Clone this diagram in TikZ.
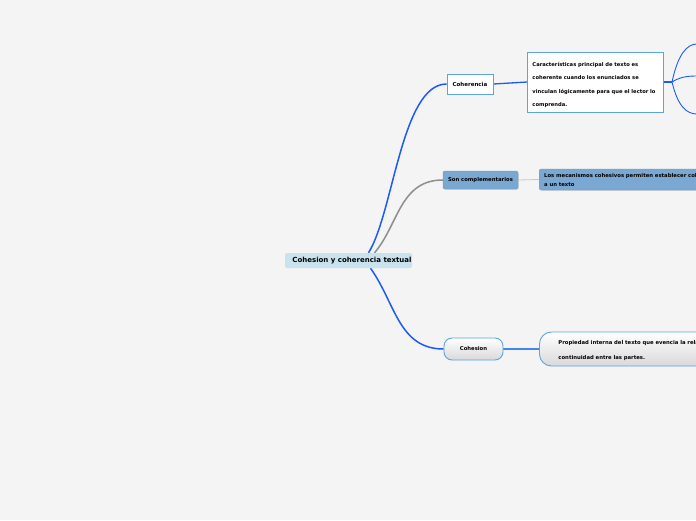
\documentclass[tikz,border=0pt]{standalone}
\usepackage{fontspec}
\setmainfont{DejaVu Sans}
\usetikzlibrary{positioning,shadows,backgrounds}
\definecolor{bggray}{HTML}{F4F4F4}
\definecolor{rootblue}{HTML}{C8E3EE}
\definecolor{linkblue}{HTML}{1A5CF5}
\definecolor{edgeblue}{HTML}{5DA3E0}
\definecolor{softblue}{HTML}{3F86E6}
\definecolor{steel}{HTML}{7BA8D2}
\definecolor{steeldark}{HTML}{6A97C2}
\definecolor{linkgray}{HTML}{8E8E8E}
\tikzset{
  topic/.style={rectangle,draw=edgeblue,fill=white,line width=0.9pt,inner sep=0pt,
    font=\bfseries\fontsize{5.5}{6}\selectfont},
  note/.style={rectangle,draw=edgeblue,fill=white,line width=0.9pt,inner xsep=5pt,inner ysep=0pt,
    align=left,anchor=west,font=\bfseries\fontsize{5.2}{13.5}\selectfont},
  plain/.style={rectangle,rounded corners=2pt,draw=steeldark,fill=steel,line width=0.4pt,inner sep=0pt,
    drop shadow={shadow xshift=0.8pt,shadow yshift=-0.8pt,opacity=0.25},
    font=\bfseries\fontsize{5.3}{9}\selectfont},
  pill/.style={rectangle,draw=edgeblue,line width=0.9pt,inner sep=0pt,
    top color=white,bottom color=black!15,font=\bfseries\fontsize{5.3}{15.5}\selectfont},
  branch/.style={draw=linkblue,line width=1.5pt},
  twig/.style={draw=linkblue,line width=0.9pt}
}
\begin{document}
\begin{tikzpicture}[x=1pt,y=-1pt]
\useasboundingbox (0,0) rectangle (696,520);
\clip (0,0) rectangle (696,520);
\begin{pgfonlayer}{background}
\fill[bggray] (0,0) rectangle (696,520);
\end{pgfonlayer}
% centre
\node at (348.5,260.5)[rectangle,rounded corners=2pt,fill=rootblue,minimum width=127pt,minimum height=15pt,inner sep=0pt,font=\bfseries\fontsize{7}{7}\selectfont](root){\hspace{7pt}\raisebox{-2pt}{Cohesion y coherencia textual}};
% coherencia
\node at (470,84)[topic,minimum width=46pt,minimum height=20pt](coher){Coherencia};
\node at (527,82)[note,minimum width=136pt,minimum height=60pt,text width=126pt](coherdef){\rule{0pt}{10pt}Características principal de texto es\\coherente cuando los enunciados se\\vinculan lógicamente para que el lector lo\\comprenda.};
\coordinate (fork) at (672,82);
\coordinate (leaf1) at (697,44);
\coordinate (leaf2) at (697,76);
\coordinate (leaf3) at (697,114);
% complementarios
\node at (480.5,180)[plain,minimum width=75pt,minimum height=18pt](compl){\raisebox{-1pt}{Son complementarios}};
\node at (539,179.5)[plain,anchor=west,align=left,minimum width=220pt,minimum height=21pt,inner xsep=5pt,text width=210pt](compldef){\rule{0pt}{6pt}Los mecanismos cohesivos permiten establecer coh\\a un texto};
% cohesion
\node at (473.5,349)[pill,rounded corners=8pt,minimum width=59pt,minimum height=22pt](cohes){\raisebox{-1pt}{Cohesion}};
\node at (539,349)[pill,rounded corners=12pt,anchor=west,align=left,minimum width=220pt,minimum height=34pt,inner xsep=19pt,text width=182pt](cohesdef){\rule{0pt}{7pt}Propiedad interna del texto que evencia la rela\\continuidad entre las partes.};
% links
\begin{pgfonlayer}{background}
\draw[branch] ([xshift=20pt]root.north) .. controls +(25,-40) and +(-45,0) .. (coher.west);
\draw[linkgray,line width=1.5pt] ([xshift=26pt]root.north) .. controls +(24,-28) and +(-43,0) .. (compl.west);
\draw[branch] ([xshift=22pt]root.south) .. controls +(25,35) and +(-45,0) .. (cohes.west);
\draw[softblue,line width=1.6pt] (cohes.east) -- (cohesdef.west);
\draw[twig,line width=1.3pt] (coher.east) -- (coherdef.west);
\draw[black!22,line width=0.8pt] (compl.east) -- (compldef.west);
\draw[twig,line width=1.3pt] (coherdef.east) -- (fork);
\draw[twig] (fork) .. controls +(6,-28) and +(-10,0) .. (leaf1);
\draw[twig] (fork) .. controls +(8,-5) and +(-10,0) .. (leaf2);
\draw[twig] (fork) .. controls +(6,25) and +(-10,0) .. (leaf3);
\end{pgfonlayer}
\end{tikzpicture}
\end{document}
